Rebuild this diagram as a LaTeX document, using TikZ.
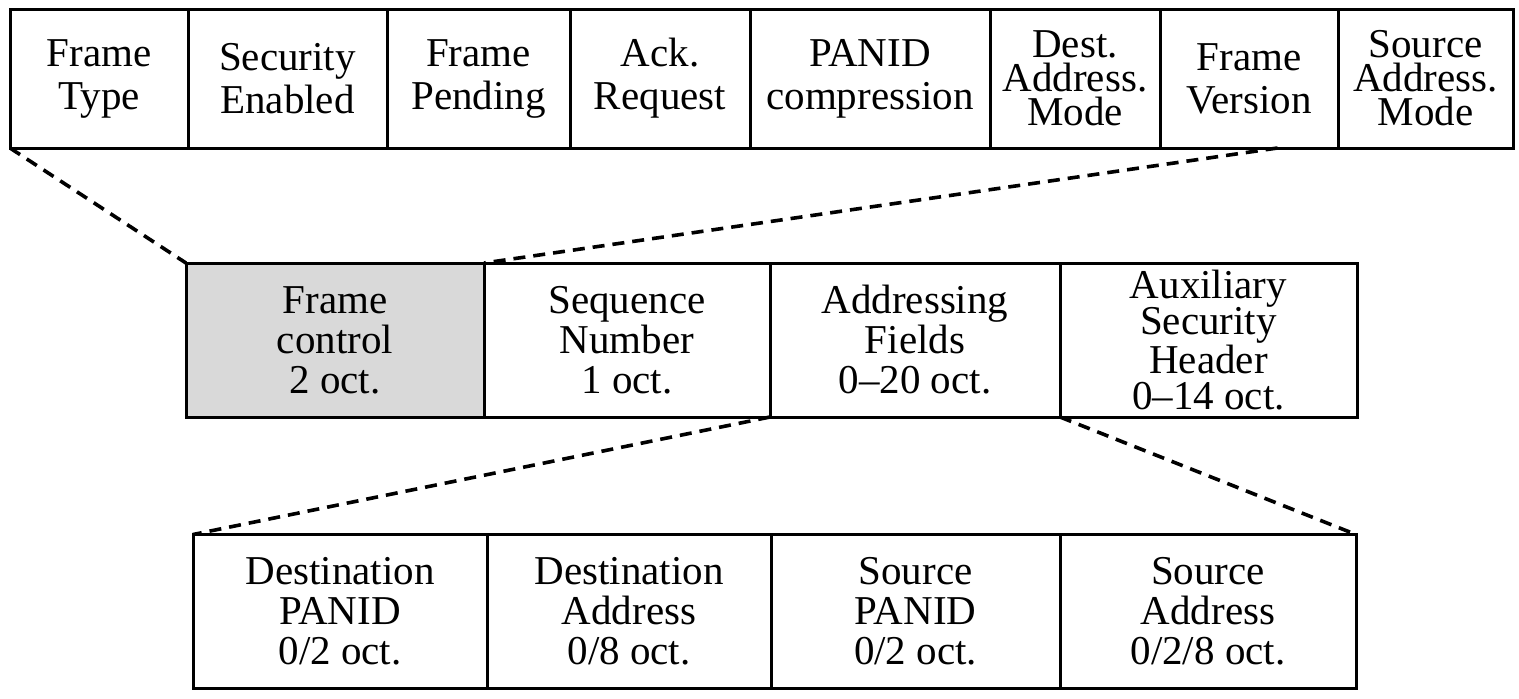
\documentclass[tikz,border=0pt]{standalone}
\usepackage{fontspec}
\setmainfont{Liberation Serif}
\usetikzlibrary{calc}
\tikzset{
  fldbox/.style={draw, line width=1.5pt, align=center, inner sep=0pt, outer sep=0pt,
    font=\fontsize{20.5pt}{20pt}\selectfont},
  bitbox/.style={fldbox, minimum height=69.5pt, font=\fontsize{20.5pt}{21.5pt}\selectfont},
  bitbox3/.style={bitbox, font=\fontsize{20.5pt}{17pt}\selectfont},
  bytebox/.style={fldbox, minimum height=77pt},
  zoomline/.style={dash pattern=on 6pt off 4pt, line width=1.8pt},
}

\begin{document}
\begin{tikzpicture}[x=0.5pt, y=-0.5pt]
  \useasboundingbox (0,0) rectangle (1519,698);
  % frame control bits
  \node[bitbox, minimum width=89pt] (ftype) at (99,78.5) {Frame\\Type};
  \node[bitbox, minimum width=99.5pt] (secen) at (287.5,78.5) {Security\\Enabled};
  \node[bitbox, minimum width=91.5pt] (fpend) at (478.5,78.5) {Frame\\Pending};
  \node[bitbox, minimum width=90pt] (ackreq) at (660,78.5) {Ack.\\Request};
  \node[bitbox, minimum width=120pt] (pcomp) at (870,78.5) {PANID\\compression};
  \node[bitbox3, minimum width=85pt] (dmode) at (1075,78.5) {Dest.\\Address.\\Mode};
  \node[bitbox, minimum width=89pt] (fver) at (1249,78.5) {Frame\\Version};
  \node[bitbox3, minimum width=87.5pt] (smode) at (1425.5,78.5) {Source\\Address.\\Mode};
  % MAC header
  \node[bytebox, fill=black!15, minimum width=149pt] (fctrl) at (335,340) {Frame\\control\\2 oct.};
  \node[bytebox, minimum width=143pt] (seqno) at (627,340) {Sequence\\Number\\1 oct.};
  \node[bytebox, minimum width=145pt] (addr) at (915,340) {Addressing\\Fields\\0–20 oct.};
  \node[bytebox, minimum width=148.5pt, font=\fontsize{20.5pt}{18pt}\selectfont] (aux) at (1208.5,340) {Auxiliary\\Security\\Header\\0–14 oct.};
  % addressing fields
  \node[bytebox, minimum width=147pt] (dpan) at (340,611.5) {Destination\\PANID\\0/2 oct.};
  \node[bytebox, minimum width=142pt] (daddr) at (629,611.5) {Destination\\Address\\0/8 oct.};
  \node[bytebox, minimum width=144.5pt] (span) at (915.5,611.5) {Source\\PANID\\0/2 oct.};
  \node[bytebox, minimum width=148pt] (saddr) at (1208,611.5) {Source\\Address\\0/2/8 oct.};
  % zoom lines
  \draw[zoomline] (ftype.south west) -- (fctrl.north west);
  \draw[zoomline] ($(fver.south west)!0.66!(fver.south east)$) -- (fctrl.north east);
  \draw[zoomline] (addr.south west) -- (dpan.north west);
  \draw[zoomline] (aux.south west) -- (saddr.north east);
\end{tikzpicture}
\end{document}
